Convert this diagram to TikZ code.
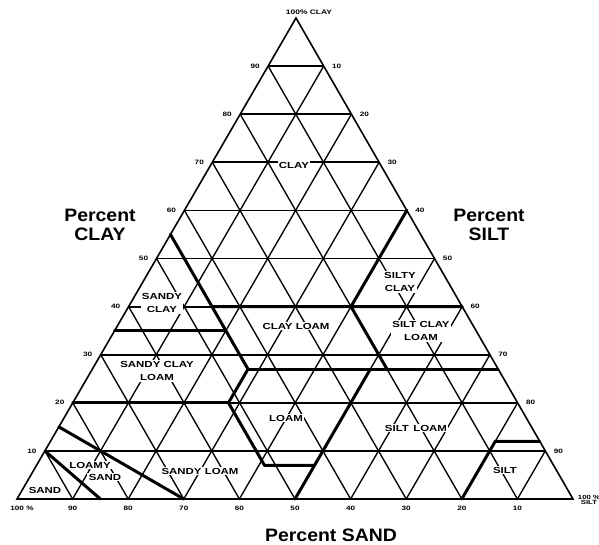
\documentclass[tikz,border=0pt]{standalone}
\usepackage{fontspec}
\usetikzlibrary{calc}
\setmainfont{Liberation Sans}
\newfontfamily\labfont{Liberation Sans Bold}[FakeStretch=1.3]
\newfontfamily\bigfont{Liberation Sans Bold}[FakeStretch=1.08]
\tikzset{
  gridline/.style={line width=1.35pt, black},
  hgridline/.style={line width=1.8pt, black},
  edgeline/.style={line width=1.6pt, black, line join=miter},
  bound/.style={line width=3pt, black, line cap=round, line join=round},
  num/.style={font=\labfont\fontsize{6.3}{6.3}\selectfont, inner sep=0pt},
  cls/.style={font=\labfont\fontsize{8.8}{12.5}\selectfont, fill=white, inner sep=1.3pt, align=center},
  big/.style={font=\bigfont\fontsize{18}{18.5}\selectfont, align=center}
}
\begin{document}
\begin{tikzpicture}[x=1pt,y=-1pt]
\fill[white] (0,0) rectangle (599,545);
\useasboundingbox (0,0) rectangle (599,545);
\coordinate (A) at (296,18);
\coordinate (S) at (17,499);
\coordinate (T) at (573,499);
% grid
\foreach \i in {1,...,9} {
  \pgfmathsetmacro\a{\i/10}
  \pgfmathsetmacro\b{1-\i/10}
  \draw[hgridline] (barycentric cs:A=\a,S=\b,T=0) -- (barycentric cs:A=\a,S=0,T=\b);
  \draw[gridline] (barycentric cs:A=0,S=\a,T=\b) -- (barycentric cs:A=\b,S=\a,T=0);
  \draw[gridline] (barycentric cs:A=0,S=\b,T=\a) -- (barycentric cs:A=\b,S=0,T=\a);
}
\draw[edgeline] (A) -- (S) -- (T) -- cycle;
% boundary points (clay, sand, silt)
\coordinate (p1) at (barycentric cs:A=.55,S=.45,T=0);
\coordinate (p2) at (barycentric cs:A=.27,S=.45,T=.28);
\coordinate (p3) at (barycentric cs:A=.35,S=.65,T=0);
\coordinate (p4) at (barycentric cs:A=.35,S=.45,T=.20);
\coordinate (p5) at (barycentric cs:A=.40,S=.45,T=.15);
\coordinate (p6) at (barycentric cs:A=.40,S=0,T=.60);
\coordinate (p7) at (barycentric cs:A=.60,S=0,T=.40);
\coordinate (p8) at (barycentric cs:A=.40,S=.20,T=.40);
\coordinate (p9) at (barycentric cs:A=.27,S=.20,T=.53);
\coordinate (p10) at (barycentric cs:A=.27,S=0,T=.73);
\coordinate (p11) at (barycentric cs:A=.20,S=.52,T=.28);
\coordinate (p12) at (barycentric cs:A=.07,S=.52,T=.41);
\coordinate (p13) at (barycentric cs:A=.07,S=.43,T=.50);
\coordinate (p14) at (barycentric cs:A=.20,S=.80,T=0);
\coordinate (p15) at (barycentric cs:A=.27,S=.23,T=.50);
\coordinate (p16) at (barycentric cs:A=0,S=.50,T=.50);
\coordinate (p17) at (barycentric cs:A=0,S=.20,T=.80);
\coordinate (p18) at (barycentric cs:A=.12,S=.08,T=.80);
\coordinate (p19) at (barycentric cs:A=.12,S=0,T=.88);
\coordinate (p20) at (barycentric cs:A=.15,S=.85,T=0);
\coordinate (p21) at (barycentric cs:A=0,S=.70,T=.30);
\coordinate (p22) at (barycentric cs:A=.10,S=.90,T=0);
\coordinate (p23) at (barycentric cs:A=0,S=.85,T=.15);
\draw[bound] (p1) -- (p2);
\draw[bound] (p3) -- (p4);
\draw[bound] (p5) -- (p6);
\draw[bound] (p7) -- (p8) -- (p9);
\draw[bound] (p2) -- (p10);
\draw[bound] (p2) -- (p11) -- (p12) -- (p13);
\draw[bound] (p14) -- (p11);
\draw[bound] (p15) -- (p16);
\draw[bound] (p17) -- (p18) -- (p19);
\draw[bound] (p20) -- (p21);
\draw[bound] (p22) -- (p23);
% scale labels
\foreach \c in {1,...,9} {
  \pgfmathsetmacro\a{\c/10}
  \pgfmathsetmacro\b{1-\c/10}
  \pgfmathtruncatemacro\v{10*\c}
  \pgfmathtruncatemacro\w{100-10*\c}
  \coordinate (lc\c) at (barycentric cs:A=\a,S=\b,T=0);
  \coordinate (rc\c) at (barycentric cs:A=\a,S=0,T=\b);
  \coordinate (bc\c) at (barycentric cs:A=0,S=\a,T=\b);
  \node[num] (L\c) at ($(lc\c)+(-13,0)$) {\v};
  \node[num] (R\c) at ($(rc\c)+(13,0)$) {\w};
  \node[num] (B\c) at ($(bc\c)+(0,9.5)$) {\v};
}
\node[num] (B10) at (22,508.5) {100 \%};
\node[num, align=center, font=\labfont\fontsize{6}{4.5}\selectfont] (Bsilt) at (589,500) {100 \%\\SILT};
\node[num, font=\labfont\fontsize{6.5}{6.5}\selectfont] (top) at (309,12) {100\% CLAY};
% class labels
\node[cls] (clay) at (294,165) {CLAY};
\node[cls] (sc) at (162,303) {SANDY\\CLAY};
\node[cls] (sicl) at (400,282) {SILTY\\CLAY};
\node[cls] (cl) at (296,326) {CLAY LOAM};
\node[cls] (sicll) at (421,331) {SILT CLAY\\LOAM};
\node[cls] (scl) at (157,371) {SANDY CLAY\\LOAM};
\node[cls] (loam) at (286,418) {LOAM};
\node[cls] (sil) at (416,428) {SILT\enspace LOAM};
\node[cls] (silt) at (505,470) {SILT};
\node[cls] (sl) at (200,471) {SANDY LOAM};
\node[cls] (ls1) at (90,465) {LOAMY};
\node[cls] (ls2) at (105,477) {SAND};
\node[cls] (sand) at (45,490) {SAND};
% axis titles
\node[big] (pclay) at (100,225) {Percent\\CLAY};
\node[big] (psilt) at (489,225) {Percent\\SILT};
\node[big] (psand) at (331,535) {Percent SAND};
\end{tikzpicture}
\end{document}
